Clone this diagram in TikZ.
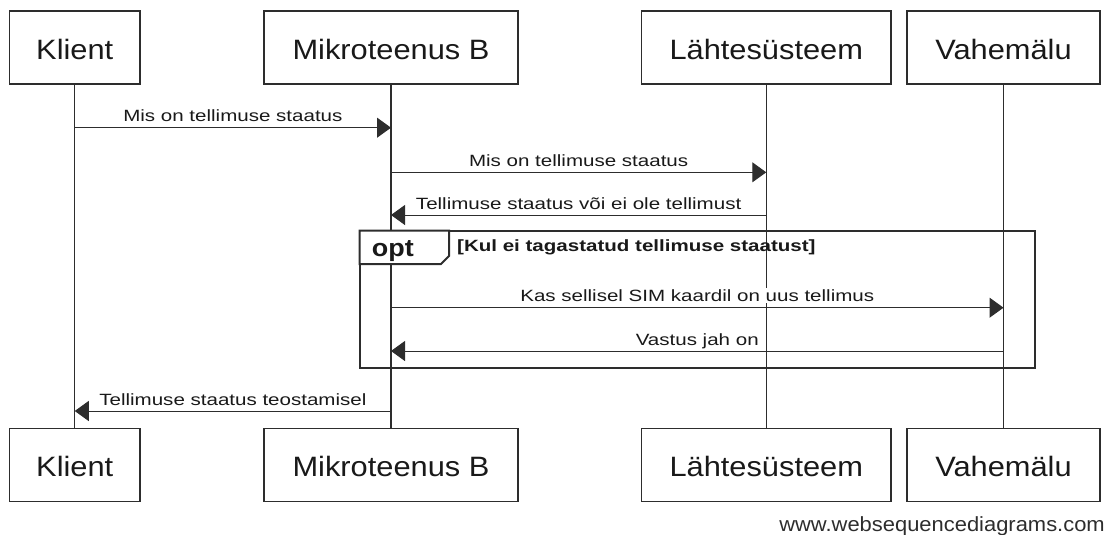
\documentclass[tikz,border=0pt]{standalone}
\usepackage{fontspec}
\setmainfont{Liberation Sans}
\newfontfamily\partyfont[FakeStretch=1.1]{Liberation Sans}
\newfontfamily\msgfont[FakeStretch=1.26]{Liberation Sans}
\newfontfamily\creditfont[FakeStretch=1.07]{Liberation Sans}
\usetikzlibrary{arrows.meta,positioning,calc}
\definecolor{clrLine}{RGB}{45,45,45}
\definecolor{clrText}{RGB}{25,25,25}
\tikzset{
  party/.style={rectangle,draw=clrLine,line width=1.3pt,fill=white,
    minimum height=73pt,inner sep=0pt,text height=23.6pt,text depth=0pt,
    font=\partyfont\fontsize{28}{30}\selectfont,text=clrText},
  lifeline/.style={draw=clrLine,line width=1.3pt},
  msg/.style={draw=clrLine,line width=1pt,
    -{Triangle[length=14pt,width=20pt]}},
  msglabel/.style={anchor=base,yshift=6pt,fill=white,inner sep=1.5pt,
    font=\msgfont\fontsize{16.3}{18}\selectfont,text=clrText},
  optframe/.style={draw=clrLine,line width=2pt,line join=miter},
  optlabel/.style={anchor=base west,inner sep=0pt,
    font=\partyfont\bfseries\fontsize{24.5}{26}\selectfont,text=clrText},
  condlabel/.style={anchor=base west,inner sep=0pt,
    font=\msgfont\bfseries\fontsize{16.3}{18}\selectfont,text=clrText},
  credit/.style={anchor=base east,inner sep=0pt,
    font=\creditfont\fontsize{20.5}{22}\selectfont,text=clrLine}
}

\begin{document}
\begin{tikzpicture}[x=1pt,y=-1pt]
  \useasboundingbox (0,0) rectangle (1113,535);

  % participants, top row
  \node[party,minimum width=130.5pt] (klientT) at (74.75,47.5) {Klient};
  \node[party,minimum width=254pt] (mikroT) at (391,47.5) {Mikroteenus B};
  \node[party,minimum width=249.5pt] (lahteT) at (766.25,47.5) {Lähtesüsteem};
  \node[party,minimum width=193pt] (vaheT) at (1003.5,47.5) {Vahemälu};

  % participants, bottom row
  \node[party,minimum width=130.5pt] (klientB) at (74.75,465) {Klient};
  \node[party,minimum width=254pt] (mikroB) at (391,465) {Mikroteenus B};
  \node[party,minimum width=249.5pt] (lahteB) at (766.25,465) {Lähtesüsteem};
  \node[party,minimum width=193pt] (vaheB) at (1003.5,465) {Vahemälu};

  \draw[lifeline] (klientT) -- (klientB);
  \draw[lifeline] (mikroT) -- (mikroB);
  \draw[lifeline] (lahteT) -- (lahteB);
  \draw[lifeline] (vaheT) -- (vaheB);

  % opt fragment
  \coordinate (optNW) at (359.5,230.7);
  \coordinate (optSE) at (1034.7,367.7);
  \draw[optframe] (optNW) rectangle (optSE);
  \draw[optframe,fill=white] (optNW) -- ++(89.5,0) -- ++(0,25.3)
    -- ++(-8,8) -- ++(-81.5,0) -- cycle;
  \node[optlabel] (optTag) at (371.7,256) {opt};
  \node[condlabel] (optCond) at (457,251.7)
    {[Kul ei tagastatud tellimuse staatust]};

  % message rows
  \coordinate (row1) at (0,127.7);
  \coordinate (row2) at (0,172.3);
  \coordinate (row3) at (0,215);
  \coordinate (row4) at (0,307.7);
  \coordinate (row5) at (0,351);
  \coordinate (row6) at (0,411);

  \draw[msg] (row1 -| klientT) -- node[msglabel] (lbl1)
    {Mis on tellimuse staatus} (row1 -| mikroT);
  \draw[msg] (row2 -| mikroT) -- node[msglabel] (lbl2)
    {Mis on tellimuse staatus} (row2 -| lahteT);
  \draw[msg] (row3 -| lahteT) -- node[msglabel] (lbl3)
    {Tellimuse staatus või ei ole tellimust} (row3 -| mikroT);
  \draw[msg] (row4 -| mikroT) -- node[msglabel] (lbl4)
    {Kas sellisel SIM kaardil on uus tellimus} (row4 -| vaheT);
  \draw[msg] (row5 -| vaheT) -- node[msglabel] (lbl5)
    {Vastus jah on} (row5 -| mikroT);
  \draw[msg] (row6 -| mikroT) -- node[msglabel] (lbl6)
    {Tellimuse staatus teostamisel} (row6 -| klientT);

  \node[credit] (credit) at (1105,531) {www.websequencediagrams.com};
\end{tikzpicture}
\end{document}
